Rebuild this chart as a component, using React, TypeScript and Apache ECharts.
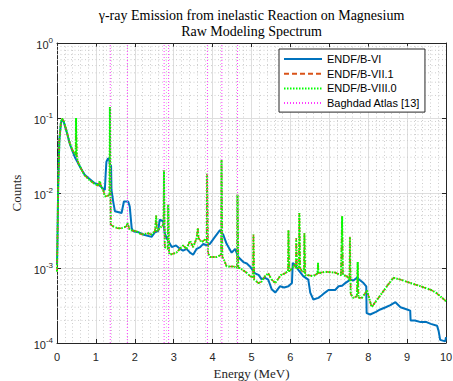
import React, { useEffect, useRef } from "react";
import * as echarts from "echarts";

// Simulated gamma spectra, [energy MeV, counts]
const spectrumVI: [number, number][] = [
  [0.0, 0.0011], [0.01, 0.002], [0.03, 0.012], [0.06, 0.05], [0.1, 0.085], [0.13, 0.095],
  [0.17, 0.09], [0.25, 0.065], [0.33, 0.045], [0.4, 0.036], [0.46, 0.03], [0.54, 0.025],
  [0.62, 0.021], [0.71, 0.0175], [0.8, 0.016], [0.9, 0.0145], [0.97, 0.0135], [1.06, 0.013],
  [1.14, 0.012], [1.2, 0.0112], [1.23, 0.011], [1.25, 0.0175], [1.27, 0.026], [1.31, 0.029],
  [1.34, 0.028], [1.36, 0.024], [1.39, 0.023], [1.4, 0.011], [1.45, 0.0074], [1.49, 0.0057],
  [1.66, 0.0054], [1.72, 0.0077], [1.83, 0.0077], [1.87, 0.0066], [1.92, 0.0034], [1.96, 0.0031],
  [2.09, 0.003], [2.21, 0.0028], [2.43, 0.0026], [2.52, 0.003], [2.6, 0.0031], [2.64, 0.0044],
  [2.73, 0.0042], [2.77, 0.0029], [2.82, 0.0025], [2.95, 0.0019], [3.06, 0.002], [3.16, 0.0018],
  [3.24, 0.0017], [3.33, 0.0018], [3.42, 0.0016], [3.5, 0.0015], [3.59, 0.0018], [3.68, 0.0019],
  [3.76, 0.0021], [3.85, 0.002], [3.93, 0.0021], [4.06, 0.0026], [4.19, 0.0032], [4.27, 0.0028],
  [4.36, 0.0021], [4.49, 0.0016], [4.58, 0.0018], [4.66, 0.0014], [4.79, 0.0012], [4.88, 0.00115],
  [4.96, 0.00105], [5.09, 0.00085], [5.18, 0.00081], [5.26, 0.00071], [5.35, 0.00074], [5.43, 0.0007],
  [5.52, 0.00052], [5.61, 0.00047], [5.73, 0.00057], [5.84, 0.00055], [5.95, 0.00057], [6.04, 0.00063],
  [6.06, 0.00117], [6.12, 0.0011], [6.2, 0.00095], [6.33, 0.00078], [6.46, 0.0007], [6.51, 0.00047],
  [6.59, 0.00038], [6.72, 0.0004], [6.8, 0.00043], [6.89, 0.00047], [6.98, 0.00051], [7.15, 0.00051],
  [7.24, 0.00057], [7.33, 0.00058], [7.41, 0.00063], [7.54, 0.0007], [7.62, 0.00068], [7.71, 0.00074],
  [7.8, 0.00068], [7.88, 0.00063], [7.95, 0.00057], [7.96, 0.00025], [8.05, 0.00024], [8.2, 0.00026],
  [8.31, 0.00028], [8.45, 0.0003], [8.57, 0.00032], [8.7, 0.00035], [8.83, 0.0003], [9.0, 0.00028],
  [9.08, 0.00027], [9.09, 0.0002], [9.2, 0.0002], [9.35, 0.00019], [9.5, 0.00019], [9.61, 0.00018],
  [9.77, 0.00017], [9.81, 0.000145], [9.85, 0.00011], [9.98, 0.000105], [10.0, 0.00012],
];

// ENDF/B-VIII.0 spectrum; ENDF/B-VII.1 coincides with it at plotting precision
const spectrumVIII: [number, number][] = [
  [0.0, 0.0009], [0.01, 0.002], [0.03, 0.012], [0.06, 0.05], [0.1, 0.088], [0.13, 0.098],
  [0.17, 0.092], [0.25, 0.066], [0.33, 0.046], [0.4, 0.037], [0.48, 0.032], [0.49, 0.1],
  [0.5, 0.1], [0.51, 0.03], [0.54, 0.026], [0.62, 0.021], [0.71, 0.0172], [0.8, 0.0155],
  [0.9, 0.014], [0.97, 0.0132], [1.06, 0.0125], [1.1, 0.0145], [1.14, 0.012], [1.2, 0.0105],
  [1.23, 0.009], [1.31, 0.0092], [1.35, 0.0095], [1.36, 0.14], [1.37, 0.14], [1.38, 0.0038],
  [1.44, 0.0036], [1.55, 0.0034], [1.66, 0.0034], [1.79, 0.0036], [1.81, 0.004], [1.87, 0.0032],
  [2.04, 0.0031], [2.17, 0.0028], [2.34, 0.0029], [2.43, 0.0028], [2.52, 0.0031], [2.55, 0.005],
  [2.57, 0.0031], [2.69, 0.0036], [2.74, 0.0038], [2.75, 0.02], [2.76, 0.02], [2.77, 0.0019],
  [2.85, 0.0018], [2.86, 0.007], [2.87, 0.007], [2.88, 0.0016], [2.9, 0.0015], [3.07, 0.0016],
  [3.16, 0.0018], [3.24, 0.002], [3.33, 0.0018], [3.42, 0.0023], [3.5, 0.0019], [3.59, 0.0025],
  [3.62, 0.0034], [3.64, 0.0025], [3.72, 0.0022], [3.8, 0.0024], [3.85, 0.0022], [3.86, 0.018],
  [3.87, 0.018], [3.88, 0.0016], [3.93, 0.0014], [4.1, 0.0014], [4.22, 0.0015], [4.23, 0.0276],
  [4.24, 0.0276], [4.25, 0.0014], [4.29, 0.0013], [4.36, 0.00105], [4.55, 0.00105], [4.63, 0.001],
  [4.64, 0.0095], [4.65, 0.0095], [4.66, 0.001], [4.7, 0.001], [4.88, 0.00086], [4.96, 0.00078],
  [5.04, 0.00075], [5.05, 0.0028], [5.06, 0.0028], [5.07, 0.0007], [5.18, 0.00063], [5.26, 0.00066],
  [5.35, 0.00078], [5.43, 0.00085], [5.52, 0.0007], [5.61, 0.00063], [5.75, 0.0008], [5.86, 0.00085],
  [5.94, 0.0009], [5.95, 0.0032], [5.96, 0.0032], [5.97, 0.0009], [6.05, 0.001], [6.1, 0.0011],
  [6.14, 0.001], [6.15, 0.0025], [6.16, 0.0025], [6.17, 0.001], [6.22, 0.001], [6.23, 0.0054],
  [6.24, 0.0054], [6.25, 0.001], [6.3, 0.0009], [6.35, 0.0009], [6.36, 0.0029], [6.37, 0.0029],
  [6.38, 0.0008], [6.46, 0.0008], [6.59, 0.00078], [6.7, 0.00085], [6.71, 0.00117], [6.72, 0.00085],
  [6.89, 0.00089], [7.15, 0.00087], [7.3, 0.0008], [7.33, 0.0049], [7.34, 0.0049], [7.35, 0.0008],
  [7.45, 0.00078], [7.52, 0.0007], [7.53, 0.0026], [7.54, 0.0026], [7.55, 0.00045], [7.62, 0.0004],
  [7.71, 0.00042], [7.73, 0.0012], [7.74, 0.0012], [7.75, 0.0004], [7.84, 0.0004], [7.97, 0.0005],
  [8.09, 0.0003], [8.18, 0.00035], [8.31, 0.00043], [8.48, 0.00057], [8.61, 0.0007], [8.65, 0.00074],
  [8.83, 0.0007], [9.09, 0.00063], [9.35, 0.00057], [9.61, 0.00051], [9.74, 0.00047], [9.9, 0.0004],
  [10.0, 0.00036],
];
const spectrumVII1 = spectrumVIII;

// Reference line energies (MeV)
const atlasLines = [1.369, 1.809, 2.754, 2.869, 3.867, 4.238, 4.641];

// Minor grid values on the log axis
const minorDecades = [1e-4, 1e-3, 1e-2, 1e-1];
const minorSteps = [2, 3, 4, 5, 6, 7, 8, 9];

const Y_MIN = 1e-4;
const Y_MAX = 1;
const X_MIN = 0;
const X_MAX = 10;

const AXIS_COLOR = "#262626";
const MINOR_GRID = "#cdcdcd";
const ATLAS_COLOR = "#FF3CFF";
const SANS = "'Liberation Sans', Arial, sans-serif";
const SERIF = "'Liberation Serif', 'Times New Roman', serif";

function horizontalSegments(ys: number[]) {
  const pts: any[] = [];
  ys.forEach((y) => {
    pts.push([X_MIN, y], [X_MAX, y], [X_MIN, "-"]);
  });
  return pts;
}

export default function App() {
  const ref = useRef<HTMLDivElement>(null);

  useEffect(() => {
    if (!ref.current) return;
    const chart = echarts.init(ref.current, null, { renderer: "svg" });
    const minorY: number[] = [];
    minorDecades.forEach((d) => minorSteps.forEach((k) => minorY.push(k * d)));

    const lineBase = {
      type: "line",
      symbol: "none",
      showSymbol: false,
      connectNulls: false,
      clip: true,
      emphasis: { disabled: true },
    };

    // one series per reference line, sharing a single legend entry
    const atlasSeries = atlasLines.map((e) => ({
      ...lineBase,
      name: "Baghdad Atlas [13]",
      z: 6,
      data: [
        [e, Y_MIN],
        [e, Y_MAX],
      ],
      lineStyle: { color: ATLAS_COLOR, width: 1, type: [1, 2] },
      itemStyle: { color: ATLAS_COLOR },
    }));

    chart.setOption({
      animation: false,
      backgroundColor: "#ffffff",
      grid: { left: 57, right: 7, top: 43, bottom: 38, containLabel: false, outerBoundsMode: "none" },
      graphic: [
        {
          type: "text",
          x: 251.5,
          y: 15,
          style: {
            text: "\u03b3-ray Emission from inelastic Reaction on Magnesium",
            fill: "#000",
            fontFamily: SERIF,
            fontSize: 14,
            align: "center",
            verticalAlign: "middle",
          },
        },
        {
          type: "text",
          x: 251.5,
          y: 31,
          style: {
            text: "Raw Modeling Spectrum",
            fill: "#000",
            fontFamily: SERIF,
            fontSize: 14,
            align: "center",
            verticalAlign: "middle",
          },
        },
      ],
      legend: {
        orient: "vertical",
        left: 279,
        top: 49,
        itemWidth: 38,
        itemHeight: 10,
        itemGap: 2.7,
        padding: [4, 5, 3, 4],
        borderColor: AXIS_COLOR,
        borderWidth: 1,
        backgroundColor: "#ffffff",
        selectedMode: false,
        itemStyle: { opacity: 0 },
        textStyle: { fontFamily: SANS, fontSize: 11, color: "#000", lineHeight: 12 },
        data: ["ENDF/B-VI", "ENDF/B-VII.1", "ENDF/B-VIII.0", "Baghdad Atlas [13]"],
      },
      xAxis: [
        {
          type: "value",
          min: X_MIN,
          max: X_MAX,
          interval: 1,
          position: "bottom",
          name: "Energy (MeV)",
          nameLocation: "middle",
          nameGap: 21,
          nameTextStyle: { fontFamily: SERIF, fontSize: 13, color: AXIS_COLOR },
          axisLine: { show: true, onZero: false, lineStyle: { color: AXIS_COLOR, width: 1 } },
          axisTick: { show: true, inside: true, length: 4, lineStyle: { color: AXIS_COLOR } },
          axisLabel: { fontFamily: SANS, fontSize: 11, color: AXIS_COLOR, margin: 8 },
          splitLine: { show: true, lineStyle: { color: "#dedede", width: 1 } },
          minorTick: { show: false, splitNumber: 5 },
          minorSplitLine: { show: true, lineStyle: { color: MINOR_GRID, width: 1, type: [1, 2.5] } },
        },
        {
          type: "value",
          min: X_MIN,
          max: X_MAX,
          interval: 1,
          position: "top",
          axisLine: { show: true, onZero: false, lineStyle: { color: AXIS_COLOR, width: 1 } },
          axisTick: { show: true, inside: true, length: 4, lineStyle: { color: AXIS_COLOR } },
          axisLabel: { show: false },
          splitLine: { show: false },
        },
      ],
      yAxis: [
        {
          type: "log",
          logBase: 10,
          min: Y_MIN,
          max: Y_MAX,
          position: "left",
          name: "Counts",
          nameLocation: "middle",
          nameGap: 33,
          nameTextStyle: { fontFamily: SERIF, fontSize: 13, color: AXIS_COLOR },
          axisLine: { show: true, onZero: false, lineStyle: { color: AXIS_COLOR, width: 1 } },
          axisTick: { show: true, inside: true, length: 4, lineStyle: { color: AXIS_COLOR } },
          axisLabel: {
            margin: 4,
            formatter: (v: number) => `{b|10}{s|${Math.round(Math.log10(v))}}`,
            rich: {
              b: { fontFamily: SANS, fontSize: 11, color: AXIS_COLOR, lineHeight: 14, verticalAlign: "bottom" },
              s: { fontFamily: SANS, fontSize: 8, color: AXIS_COLOR, lineHeight: 14, verticalAlign: "top" },
            },
          },
          splitLine: { show: true, lineStyle: { color: "#dedede", width: 1 } },
        },
        {
          type: "log",
          logBase: 10,
          min: Y_MIN,
          max: Y_MAX,
          position: "right",
          axisLine: { show: true, onZero: false, lineStyle: { color: AXIS_COLOR, width: 1 } },
          axisTick: { show: true, inside: true, length: 4, lineStyle: { color: AXIS_COLOR } },
          axisLabel: { show: false },
          splitLine: { show: false },
        },
      ],
      series: [
        {
          ...lineBase,
          name: "minor-grid",
          silent: true,
          z: 1,
          data: horizontalSegments(minorY),
          lineStyle: { color: MINOR_GRID, width: 1, type: [1, 2.5] },
          tooltip: { show: false },
        },
        {
          ...lineBase,
          name: "ENDF/B-VI",
          z: 3,
          data: spectrumVI,
          lineStyle: { color: "#0072BD", width: 2 },
          itemStyle: { color: "#0072BD" },
        },
        {
          ...lineBase,
          name: "ENDF/B-VII.1",
          z: 4,
          data: spectrumVII1,
          lineStyle: { color: "#D95319", width: 1.5, type: [5, 3] },
          itemStyle: { color: "#D95319" },
        },
        {
          ...lineBase,
          name: "ENDF/B-VIII.0",
          z: 5,
          data: spectrumVIII,
          lineStyle: { color: "#00FF00", width: 2, type: [1.5, 1.5] },
          itemStyle: { color: "#00FF00" },
        },
        ...atlasSeries,
      ],
    });
    return () => chart.dispose();
  }, []);

  return (
    <div
      ref={ref}
      style={{ position: "absolute", left: 0, top: 0, width: 453, height: 381 }}
    />
  );
}
